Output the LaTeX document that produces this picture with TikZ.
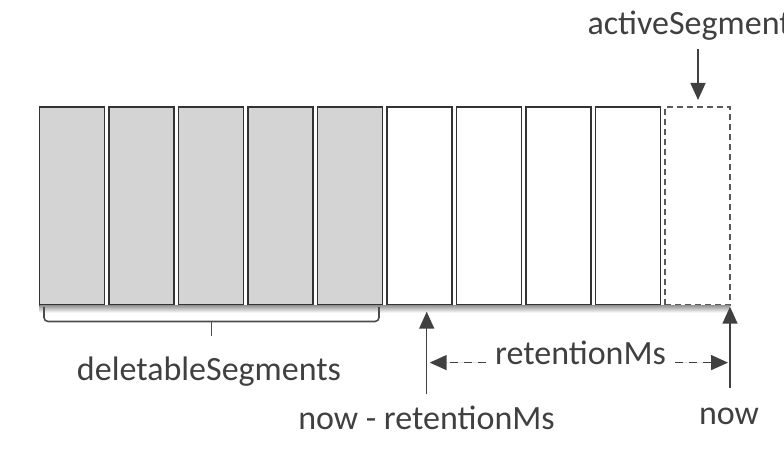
\documentclass[tikz,border=0pt]{standalone}
\usepackage{fontspec}
\setmainfont{Carlito}
\usepackage{tikz}
\usetikzlibrary{positioning,arrows.meta}

\begin{document}
\begin{tikzpicture}[
    x=1pt, y=1pt,
    node distance=4.5pt,
    segbox/.style={rectangle, draw=black!80, line width=1.6pt, outer sep=0pt, minimum width=65pt, minimum height=198pt},
    oldseg/.style={segbox, fill=black!17},
    newseg/.style={segbox, fill=white},
    actseg/.style={segbox, fill=white, draw=black!65, dash pattern=on 6pt off 4pt},
    lbl/.style={font=\fontsize{34}{40}\selectfont, text=black!75},
    arr/.style={-{Triangle[length=17pt,width=15pt]}, draw=black!75, fill=black!75, line width=1.5pt},
    dimarr/.style={arr, dash pattern=on 8pt off 6pt}
    ]
        \useasboundingbox (0,0) rectangle (784,454);

        %Segments
        \node[oldseg]   (s1)    at (72,248.2)   {};
        \node[oldseg]   (s2)    [right=of s1]   {};
        \node[oldseg]   (s3)    [right=of s2]   {};
        \node[oldseg]   (s4)    [right=of s3]   {};
        \node[oldseg]   (s5)    [right=of s4]   {};
        \node[newseg]   (s6)    [right=of s5]   {};
        \node[newseg]   (s7)    [right=of s6]   {};
        \node[newseg]   (s8)    [right=of s7]   {};
        \node[newseg]   (s9)    [right=of s8]   {};
        \node[actseg]   (s10)   [right=of s9]   {};

        %Shadow
        \shade[top color=black!40, bottom color=white]
            ([yshift=-0.8pt]s1.south west) rectangle ([yshift=-8pt]s10.south east);

        %Labels
        \node[lbl, anchor=base]         (del)       at (209,73)     {deletableSegments};
        \node[lbl, anchor=base]         (nowret)    at (426.5,24)   {now - retentionMs};
        \node[lbl, anchor=base]         (now)       at (729,29)     {now};
        \node[lbl, anchor=base west]    (act)       at (584,419)    {activeSegment};
        \node[lbl, anchor=base]         (ret)       at (580.5,89)   {retentionMs};

        %Points
        \coordinate (brl)   at (44,147);
        \coordinate (brr)   at (379,147);
        \coordinate (brtip) at (211.5,118);
        \coordinate (tipA)  at (426.7,142.3);
        \coordinate (tipB)  at (730,147.3);
        \coordinate (tipC)  at (698,354);

        %Brace
        \draw[draw=black!70, line width=1.6pt, rounded corners=4pt]
            (brl) -- ++(0,-14.5) -| (brr);
        \draw[draw=black!70, line width=1.6pt]
            (brtip |- 0,132.5) -- (brtip);

        %Lines
        \draw[arr, shorten <=9pt]  (nowret.north -| tipA) -- (tipA);
        \draw[arr, shorten <=17pt] (now.north -| tipB) -- (tipB);
        \draw[arr, shorten <=5pt]  (act.south -| tipC) -- (tipC);
        \draw[dimarr, shorten <=6pt, shorten >=3pt] (ret.mid west) -- (ret.mid west -| tipA);
        \draw[dimarr, shorten <=6pt, shorten >=2pt] (ret.mid east) -- (ret.mid east -| tipB);
    \end{tikzpicture}
\end{document}
